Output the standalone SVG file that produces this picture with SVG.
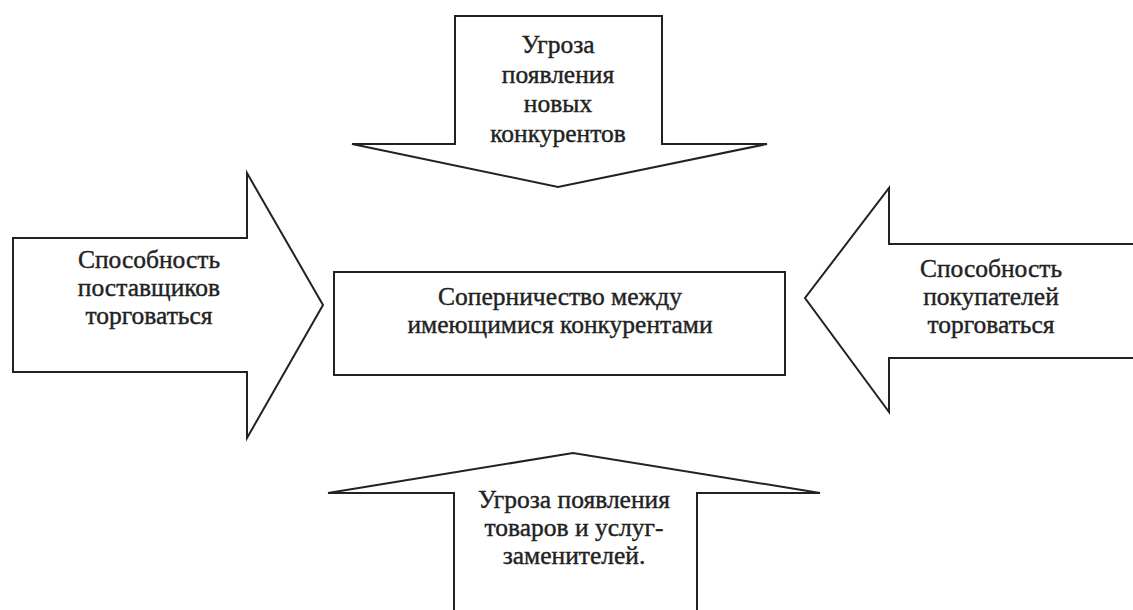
<svg xmlns="http://www.w3.org/2000/svg" width="1133" height="610" viewBox="0 0 1133 610">
<style>
.shape{fill:#fff;stroke:#222;stroke-width:2;stroke-linejoin:miter}
.t{font-family:"Liberation Serif","Times New Roman",serif;font-size:25.5px;fill:#222;stroke:#222;stroke-width:0.4;text-anchor:middle}
</style>
<rect width="1133" height="610" fill="#fff"/>
<g id="connectors"></g>
<g id="top-arrow">
<polygon class="shape" points="455,16 662,16 662,144 767,144 558,187 352,144 455,144"/>
<text class="t" x="558" y="53">Угроза</text>
<text class="t" x="558" y="83">появления</text>
<text class="t" x="558" y="112">новых</text>
<text class="t" x="558" y="142">конкурентов</text>
</g>
<g id="left-arrow">
<polygon class="shape" points="13,238 247,238 247,173 323,305 247,438 247,372 13,372"/>
<text class="t" x="149" y="268">Способность</text>
<text class="t" x="149" y="296">поставщиков</text>
<text class="t" x="149" y="324">торговаться</text>
</g>
<g id="center">
<rect class="shape" x="334" y="272" width="451" height="103"/>
<text class="t" x="560" y="305">Соперничество между</text>
<text class="t" x="560" y="333">имеющимися конкурентами</text>
</g>
<g id="right-arrow">
<polygon class="shape" points="1140,244 889,244 889,188 805,298 889,412 889,358 1140,358"/>
<text class="t" x="991" y="277">Способность</text>
<text class="t" x="991" y="305">покупателей</text>
<text class="t" x="991" y="333">торговаться</text>
</g>
<g id="bottom-arrow">
<polygon class="shape" points="454,620 454,493 328,493 573,453 820,493 697,493 697,620"/>
<text class="t" x="574" y="508">Угроза появления</text>
<text class="t" x="574" y="536">товаров и услуг-</text>
<text class="t" x="574" y="564">заменителей.</text>
</g>
</svg>
